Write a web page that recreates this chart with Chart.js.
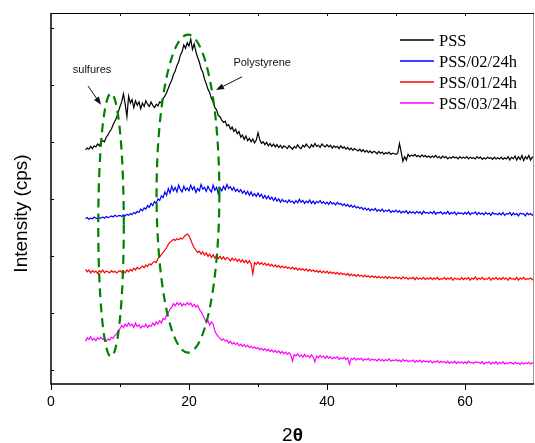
<!DOCTYPE html>
<html>
<head>
<meta charset="utf-8">
<script src="https://cdn.jsdelivr.net/npm/chart.js@4.4.0/dist/chart.umd.min.js"></script>
<style>
html, body { margin: 0; padding: 0; background: #fff; }
#wrap { width: 535px; height: 443px; position: relative; }
</style>
</head>
<body>
<div id="wrap"><canvas id="xrd"></canvas></div>
<script>
// 2theta sampling of the patterns (degrees)
const thetaStart = 5;
const thetaStep = 0.25;

// intensities, arbitrary units (offset stacked), one row = 5 degrees
const pss = [
	3.86, 3.89, 3.87, 3.92, 3.88, 3.93, 3.91, 3.96, 3.93, 3.99, 4.02, 4.00, 4.08, 4.12, 4.18, 4.22, 4.30, 4.36, 4.42, 4.52,
	4.62, 4.70, 4.84, 4.66, 4.44, 4.80, 4.68, 4.74, 4.60, 4.72, 4.64, 4.70, 4.58, 4.68, 4.62, 4.72, 4.66, 4.62, 4.70, 4.64,
	4.60, 4.66, 4.63, 4.70, 4.68, 4.76, 4.80, 4.86, 4.94, 5.02, 5.08, 5.18, 5.24, 5.34, 5.40, 5.52, 5.58, 5.70, 5.64, 5.74,
	5.68, 5.80, 5.62, 5.72, 5.58, 5.48, 5.40, 5.28, 5.22, 5.10, 5.02, 4.92, 4.86, 4.76, 4.70, 4.60, 4.56, 4.46, 4.44, 4.38,
	4.34, 4.36, 4.28, 4.30, 4.22, 4.26, 4.18, 4.22, 4.14, 4.18, 4.08, 4.12, 4.04, 4.10, 4.02, 4.06, 4.00, 4.05, 3.98, 4.03,
	4.16, 4.04, 3.97, 4.00, 3.95, 3.99, 3.93, 3.97, 3.92, 3.96, 3.91, 3.95, 3.90, 3.94, 3.89, 3.93, 3.91, 3.88, 3.93, 3.90,
	3.87, 3.92, 3.89, 3.95, 3.90, 3.88, 3.94, 3.91, 3.96, 3.92, 3.89, 3.95, 3.91, 3.97, 3.92, 3.94, 3.90, 3.96, 3.93, 3.91,
	3.95, 3.91, 3.94, 3.89, 3.93, 3.90, 3.92, 3.88, 3.93, 3.89, 3.91, 3.87, 3.90, 3.86, 3.89, 3.85, 3.88, 3.86, 3.84, 3.87,
	3.83, 3.86, 3.82, 3.85, 3.81, 3.84, 3.80, 3.83, 3.82, 3.79, 3.83, 3.80, 3.82, 3.78, 3.81, 3.79, 3.82, 3.78, 3.80, 3.79,
	3.78, 3.80, 3.97, 3.82, 3.66, 3.74, 3.68, 3.78, 3.74, 3.77, 3.75, 3.78, 3.74, 3.76, 3.73, 3.77, 3.74, 3.76, 3.73, 3.75,
	3.72, 3.75, 3.73, 3.76, 3.72, 3.74, 3.71, 3.75, 3.72, 3.74, 3.70, 3.73, 3.71, 3.74, 3.72, 3.73, 3.70, 3.74, 3.71, 3.73,
	3.71, 3.74, 3.70, 3.73, 3.71, 3.72, 3.70, 3.74, 3.71, 3.73, 3.69, 3.72, 3.70, 3.73, 3.71, 3.72, 3.69, 3.73, 3.70, 3.72,
	3.70, 3.73, 3.69, 3.72, 3.70, 3.74, 3.68, 3.73, 3.70, 3.75, 3.68, 3.74, 3.69, 3.76, 3.67, 3.74, 3.70, 3.76, 3.68, 3.73,
	3.71
];
const pss02 = [
	2.65, 2.67, 2.64, 2.66, 2.65, 2.68, 2.66, 2.65, 2.67, 2.66, 2.68, 2.66, 2.69, 2.67, 2.68, 2.70, 2.68, 2.71, 2.69, 2.70,
	2.71, 2.69, 2.72, 2.70, 2.73, 2.71, 2.74, 2.72, 2.76, 2.74, 2.78, 2.76, 2.82, 2.79, 2.84, 2.82, 2.88, 2.85, 2.92, 2.88,
	2.95, 2.92, 3.00, 2.97, 3.05, 3.02, 3.12, 3.06, 3.18, 3.10, 3.22, 3.14, 3.20, 3.12, 3.24, 3.16, 3.12, 3.22, 3.15, 3.19,
	3.14, 3.24, 3.16, 3.21, 3.11, 3.18, 3.14, 3.25, 3.17, 3.20, 3.13, 3.22, 3.16, 3.12, 3.24, 3.15, 3.20, 3.08, 3.19, 3.14,
	3.22, 3.16, 3.25, 3.18, 3.21, 3.15, 3.20, 3.13, 3.17, 3.12, 3.16, 3.10, 3.14, 3.08, 3.13, 3.06, 3.12, 3.05, 3.09, 3.04,
	3.10, 3.04, 3.08, 3.01, 3.06, 3.00, 3.05, 2.99, 3.03, 2.97, 3.02, 2.96, 3.00, 2.94, 2.99, 2.95, 2.97, 2.93, 2.98, 2.94,
	2.96, 2.92, 2.97, 2.93, 2.99, 2.94, 2.97, 2.92, 2.96, 2.93, 2.98, 2.92, 2.96, 2.91, 2.95, 2.93, 2.97, 2.92, 2.95, 2.91,
	2.94, 2.90, 2.95, 2.91, 2.93, 2.89, 2.94, 2.90, 2.92, 2.88, 2.91, 2.87, 2.90, 2.86, 2.89, 2.85, 2.88, 2.84, 2.86, 2.83,
	2.85, 2.81, 2.84, 2.80, 2.83, 2.79, 2.82, 2.80, 2.83, 2.78, 2.81, 2.78, 2.82, 2.77, 2.80, 2.78, 2.81, 2.76, 2.79, 2.77,
	2.80, 2.76, 2.79, 2.75, 2.78, 2.76, 2.79, 2.74, 2.78, 2.75, 2.77, 2.74, 2.78, 2.75, 2.77, 2.73, 2.78, 2.75, 2.76, 2.74,
	2.77, 2.74, 2.78, 2.73, 2.76, 2.75, 2.77, 2.73, 2.76, 2.74, 2.78, 2.73, 2.76, 2.74, 2.77, 2.72, 2.76, 2.74, 2.75, 2.73,
	2.76, 2.73, 2.77, 2.72, 2.75, 2.74, 2.77, 2.72, 2.76, 2.73, 2.75, 2.72, 2.76, 2.73, 2.75, 2.71, 2.76, 2.73, 2.74, 2.72,
	2.75, 2.72, 2.76, 2.71, 2.74, 2.73, 2.76, 2.71, 2.75, 2.72, 2.74, 2.70, 2.75, 2.73, 2.74, 2.70, 2.75, 2.72, 2.74, 2.71,
	2.73
];
const pss01 = [
	1.76, 1.72, 1.75, 1.70, 1.74, 1.71, 1.73, 1.69, 1.74, 1.71, 1.75, 1.70, 1.73, 1.72, 1.70, 1.74, 1.71, 1.73, 1.70, 1.72,
	1.74, 1.71, 1.73, 1.70, 1.75, 1.72, 1.76, 1.73, 1.78, 1.75, 1.80, 1.77, 1.79, 1.82, 1.79, 1.84, 1.81, 1.86, 1.84, 1.88,
	1.90, 1.88, 1.95, 1.98, 2.02, 2.06, 2.10, 2.14, 2.20, 2.24, 2.26, 2.29, 2.27, 2.30, 2.28, 2.31, 2.29, 2.33, 2.36, 2.38,
	2.35, 2.28, 2.20, 2.14, 2.10, 2.06, 2.08, 2.03, 2.07, 2.01, 2.05, 1.99, 2.03, 1.97, 2.02, 1.96, 2.00, 1.95, 1.99, 1.94,
	1.98, 1.93, 1.97, 1.95, 1.91, 1.96, 1.92, 1.95, 1.90, 1.94, 1.89, 1.93, 1.88, 1.92, 1.87, 1.91, 1.86, 1.68, 1.88, 1.85,
	1.89, 1.85, 1.88, 1.84, 1.87, 1.83, 1.86, 1.82, 1.85, 1.81, 1.84, 1.80, 1.83, 1.79, 1.82, 1.79, 1.81, 1.78, 1.80, 1.77,
	1.80, 1.76, 1.79, 1.75, 1.78, 1.75, 1.77, 1.74, 1.77, 1.73, 1.76, 1.73, 1.75, 1.72, 1.74, 1.71, 1.74, 1.70, 1.73, 1.70,
	1.73, 1.69, 1.72, 1.69, 1.71, 1.68, 1.71, 1.67, 1.70, 1.67, 1.69, 1.66, 1.69, 1.65, 1.68, 1.65, 1.67, 1.64, 1.67, 1.64,
	1.66, 1.63, 1.66, 1.63, 1.65, 1.62, 1.65, 1.62, 1.64, 1.61, 1.64, 1.61, 1.63, 1.61, 1.64, 1.60, 1.63, 1.61, 1.62, 1.60,
	1.63, 1.60, 1.62, 1.59, 1.63, 1.60, 1.62, 1.59, 1.61, 1.60, 1.62, 1.58, 1.62, 1.59, 1.61, 1.59, 1.62, 1.58, 1.61, 1.59,
	1.62, 1.58, 1.61, 1.59, 1.62, 1.58, 1.60, 1.59, 1.62, 1.58, 1.61, 1.59, 1.62, 1.57, 1.61, 1.59, 1.60, 1.58, 1.62, 1.58,
	1.61, 1.59, 1.62, 1.57, 1.61, 1.59, 1.63, 1.58, 1.61, 1.59, 1.62, 1.58, 1.60, 1.59, 1.62, 1.57, 1.61, 1.59, 1.62, 1.58,
	1.61, 1.58, 1.62, 1.59, 1.61, 1.57, 1.62, 1.59, 1.60, 1.58, 1.62, 1.57, 1.61, 1.59, 1.62, 1.58, 1.60, 1.59, 1.61, 1.58,
	1.60
];
const pss03 = [
	0.50, 0.56, 0.53, 0.58, 0.52, 0.55, 0.51, 0.56, 0.54, 0.57, 0.53, 0.55, 0.50, 0.54, 0.52, 0.57, 0.55, 0.60, 0.63, 0.68,
	0.72, 0.78, 0.74, 0.80, 0.76, 0.82, 0.77, 0.80, 0.74, 0.82, 0.76, 0.79, 0.73, 0.77, 0.75, 0.80, 0.74, 0.78, 0.76, 0.82,
	0.78, 0.84, 0.80, 0.86, 0.82, 0.90, 0.88, 0.96, 1.00, 1.06, 1.10, 1.16, 1.12, 1.18, 1.14, 1.17, 1.12, 1.16, 1.13, 1.18,
	1.14, 1.17, 1.11, 1.15, 1.10, 1.13, 1.06, 1.02, 0.96, 0.90, 0.82, 0.86, 0.78, 0.84, 0.80, 0.68, 0.62, 0.58, 0.55, 0.52,
	0.54, 0.50, 0.52, 0.47, 0.50, 0.45, 0.48, 0.44, 0.47, 0.42, 0.45, 0.41, 0.44, 0.40, 0.43, 0.39, 0.41, 0.38, 0.40, 0.37,
	0.39, 0.35, 0.38, 0.34, 0.37, 0.33, 0.36, 0.32, 0.35, 0.31, 0.34, 0.30, 0.33, 0.29, 0.32, 0.28, 0.31, 0.27, 0.30, 0.26,
	0.15, 0.27, 0.24, 0.28, 0.23, 0.26, 0.22, 0.27, 0.23, 0.25, 0.21, 0.26, 0.22, 0.14, 0.24, 0.21, 0.25, 0.22, 0.24, 0.20,
	0.24, 0.20, 0.23, 0.19, 0.22, 0.20, 0.23, 0.18, 0.21, 0.19, 0.22, 0.18, 0.21, 0.10, 0.20, 0.18, 0.21, 0.17, 0.20, 0.18,
	0.20, 0.16, 0.19, 0.17, 0.20, 0.16, 0.19, 0.17, 0.18, 0.15, 0.19, 0.16, 0.18, 0.15, 0.18, 0.16, 0.19, 0.15, 0.17, 0.16,
	0.18, 0.15, 0.17, 0.14, 0.18, 0.15, 0.17, 0.14, 0.16, 0.15, 0.17, 0.13, 0.16, 0.14, 0.17, 0.13, 0.16, 0.14, 0.15, 0.13,
	0.16, 0.12, 0.15, 0.13, 0.16, 0.12, 0.15, 0.13, 0.14, 0.12, 0.15, 0.11, 0.14, 0.12, 0.15, 0.11, 0.14, 0.12, 0.14, 0.11,
	0.14, 0.11, 0.15, 0.12, 0.13, 0.11, 0.14, 0.13, 0.13, 0.11, 0.14, 0.10, 0.13, 0.12, 0.14, 0.10, 0.13, 0.11, 0.14, 0.10,
	0.13, 0.11, 0.14, 0.10, 0.12, 0.11, 0.13, 0.12, 0.10, 0.13, 0.11, 0.12, 0.09, 0.13, 0.10, 0.12, 0.11, 0.13, 0.10, 0.12,
	0.11
];

const seriesNames = ['PSS', 'PSS/02/24h', 'PSS/01/24h', 'PSS/03/24h'];
const seriesValues = [pss, pss02, pss01, pss03];
const seriesColors = ['#000000', '#0000ff', '#ff0000', '#ff00ff'];

const xTicks = [0, 20, 40, 60];
const xMinorTicks = [10, 30, 50];
const yTicks = [0, 1, 2, 3, 4, 5, 6];

// dashed marks around the two humps, in data units
const ellipses = [
	{cx: 8.7, cy: 2.54, rx: 1.85, ry: 2.31},
	{cx: 19.85, cy: 3.09, rx: 4.55, ry: 2.79}
];
const notes = [
	{text: 'sulfures', x: 5.95, y: 5.26, from: [5.36, 4.98], to: [7.25, 4.65]},
	{text: 'Polystyrene', x: 30.6, y: 5.39, from: [27.68, 5.14], to: [23.91, 4.91]}
];

function toPoints(values) {
	return values.map((v, i) => ({x: thetaStart + i * thetaStep, y: v}));
}

function drawArrow(ctx, x1, y1, x2, y2) {
	const ang = Math.atan2(y2 - y1, x2 - x1);
	ctx.beginPath();
	ctx.moveTo(x1, y1);
	ctx.lineTo(x2 - 5 * Math.cos(ang), y2 - 5 * Math.sin(ang));
	ctx.stroke();
	ctx.beginPath();
	ctx.moveTo(x2, y2);
	ctx.lineTo(x2 - 8 * Math.cos(ang) + 3 * Math.sin(ang), y2 - 8 * Math.sin(ang) - 3 * Math.cos(ang));
	ctx.lineTo(x2 - 8 * Math.cos(ang) - 3 * Math.sin(ang), y2 - 8 * Math.sin(ang) + 3 * Math.cos(ang));
	ctx.closePath();
	ctx.fill();
}

const decor = {
	id: 'decor',
	afterDatasetsDraw(chart) {
		const ctx = chart.ctx;
		const {x, y} = chart.scales;

		ctx.save();
		ctx.strokeStyle = '#008000';
		ctx.lineWidth = 2.2;
		ctx.setLineDash([9, 6]);
		ellipses.forEach(e => {
			const cx = x.getPixelForValue(e.cx), cy = y.getPixelForValue(e.cy);
			const rx = Math.abs(x.getPixelForValue(e.cx + e.rx) - cx);
			const ry = Math.abs(y.getPixelForValue(e.cy + e.ry) - cy);
			ctx.beginPath();
			ctx.ellipse(cx, cy, rx, ry, 0, 0, Math.PI * 2);
			ctx.stroke();
		});
		ctx.restore();

		ctx.save();
		ctx.fillStyle = '#111';
		ctx.strokeStyle = '#111';
		ctx.lineWidth = 1;
		ctx.font = '11px "Liberation Sans", Arial, sans-serif';
		ctx.textAlign = 'center';
		ctx.textBaseline = 'middle';
		notes.forEach(n => {
			ctx.fillText(n.text, x.getPixelForValue(n.x), y.getPixelForValue(n.y));
			drawArrow(ctx,
				x.getPixelForValue(n.from[0]), y.getPixelForValue(n.from[1]),
				x.getPixelForValue(n.to[0]), y.getPixelForValue(n.to[1]));
		});
		ctx.restore();
	},
	afterDraw(chart) {
		const ctx = chart.ctx;
		const {x, y} = chart.scales;
		const a = chart.chartArea;

		ctx.save();
		// frame
		ctx.strokeStyle = '#999';
		ctx.lineWidth = 1;
		ctx.beginPath(); ctx.moveTo(a.right - 0.5, a.top); ctx.lineTo(a.right - 0.5, a.bottom); ctx.stroke();
		ctx.strokeStyle = '#000';
		ctx.beginPath(); ctx.moveTo(a.left, a.top + 0.5); ctx.lineTo(a.right, a.top + 0.5); ctx.stroke();
		ctx.lineWidth = 1.5;
		ctx.beginPath();
		ctx.moveTo(a.left, a.top);
		ctx.lineTo(a.left, a.bottom);
		ctx.lineTo(a.right, a.bottom);
		ctx.stroke();

		// ticks
		ctx.lineWidth = 1;
		ctx.beginPath();
		xTicks.forEach(v => {
			const px = Math.round(x.getPixelForValue(v)) + 0.5;
			ctx.moveTo(px, a.bottom); ctx.lineTo(px, a.bottom + 6);
		});
		xMinorTicks.forEach(v => {
			const px = Math.round(x.getPixelForValue(v)) + 0.5;
			ctx.moveTo(px, a.bottom); ctx.lineTo(px, a.bottom + 3);
		});
		xTicks.concat(xMinorTicks).forEach(v => {
			if (v === 0) return;
			const px = Math.round(x.getPixelForValue(v)) + 0.5;
			ctx.moveTo(px, a.top); ctx.lineTo(px, a.top + 3);
		});
		yTicks.forEach(v => {
			const py = Math.round(y.getPixelForValue(v)) + 0.5;
			ctx.moveTo(a.left, py); ctx.lineTo(a.left + 3, py);
		});
		ctx.stroke();

		// axis titles
		ctx.fillStyle = '#000';
		ctx.font = '19px "Liberation Sans", Arial, sans-serif';
		ctx.textAlign = 'center';
		ctx.textBaseline = 'middle';
		ctx.save();
		ctx.translate(22, (a.top + a.bottom) / 2 + 15);
		ctx.rotate(-Math.PI / 2);
		ctx.fillText('Intensity (cps)', 0, 0);
		ctx.restore();

		ctx.textAlign = 'left';
		ctx.textBaseline = 'alphabetic';
		const fNorm = '19px "Liberation Sans", Arial, sans-serif';
		const fBold = 'bold 19px "Liberation Sans", Arial, sans-serif';
		ctx.font = fNorm;
		const w2 = ctx.measureText('2').width;
		ctx.font = fBold;
		const wt = ctx.measureText('θ').width;
		const sx = (a.left + a.right) / 2 - (w2 + wt) / 2;
		ctx.font = fNorm;
		ctx.fillText('2', sx, 441);
		ctx.font = fBold;
		ctx.fillText('θ', sx + w2, 441);

		// legend
		ctx.font = '16.5px "Liberation Serif", "Times New Roman", serif';
		chart.data.datasets.forEach((ds, i) => {
			const ly = 40 + i * 21;
			ctx.strokeStyle = ds.borderColor;
			ctx.lineWidth = 1.5;
			ctx.beginPath(); ctx.moveTo(400, ly); ctx.lineTo(434, ly); ctx.stroke();
			ctx.fillStyle = '#000';
			ctx.fillText(ds.label, 439, ly + 6);
		});
		ctx.restore();
	}
};

new Chart(document.getElementById('xrd'), {
	type: 'line',
	data: {
		datasets: seriesNames.map((name, i) => ({
			label: name,
			data: toPoints(seriesValues[i]),
			borderColor: seriesColors[i],
			borderWidth: 1.2,
			pointRadius: 0,
			tension: 0,
			fill: false
		}))
	},
	options: {
		responsive: true,
		maintainAspectRatio: false,
		animation: false,
		layout: { padding: {top: 13, right: 1, bottom: 0, left: 0} },
		plugins: {
			legend: { display: false },
			tooltip: { enabled: false }
		},
		scales: {
			x: {
				type: 'linear',
				min: 0,
				max: 70,
				afterBuildTicks: scale => { scale.ticks = xTicks.map(v => ({value: v})); },
				afterFit: scale => { scale.height = 59; },
				grid: { display: false, drawTicks: false },
				border: { display: false },
				ticks: {
					padding: 10,
					color: '#000',
					font: { family: '"Liberation Sans", Arial, sans-serif', size: 14 }
				}
			},
			y: {
				min: -0.25,
				max: 6.26,
				afterBuildTicks: scale => { scale.ticks = yTicks.map(v => ({value: v})); },
				afterFit: scale => { scale.width = 51; },
				grid: { display: false, drawTicks: false },
				border: { display: false },
				ticks: { display: false }
			}
		}
	},
	plugins: [decor]
});
</script>
</body>
</html>
